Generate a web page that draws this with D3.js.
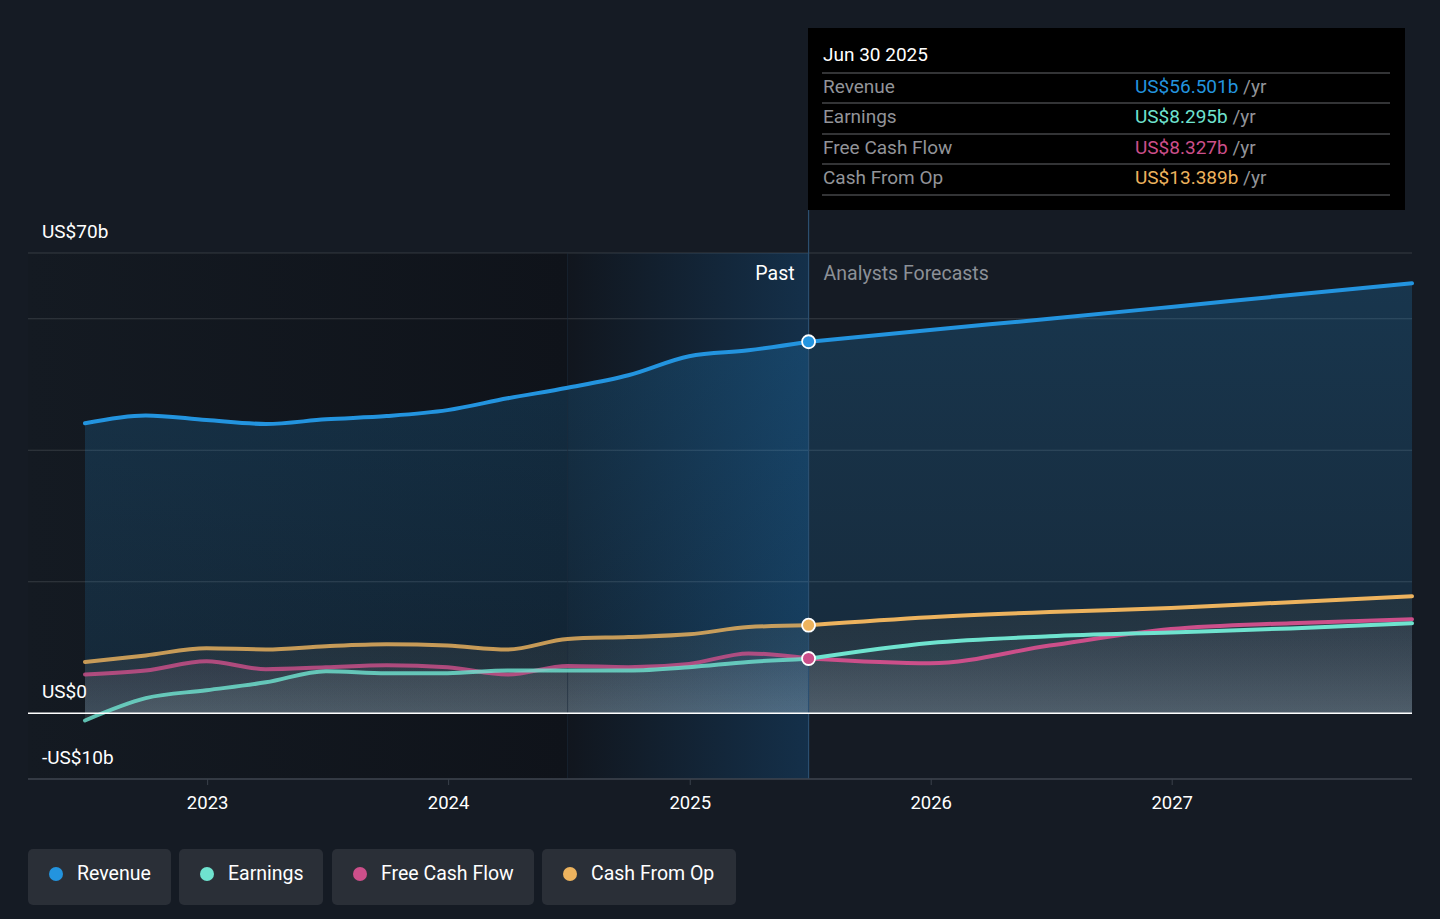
<!DOCTYPE html>
<html>
<head>
<meta charset="utf-8">
<script src="https://cdn.jsdelivr.net/npm/d3@7"></script>
<style>
  body { margin: 0; background: #151b24; }
  svg { display: block; font-family: Roboto, "Noto Sans", sans-serif; }
</style>
</head>
<body>
<svg id="chart" width="1440" height="919"></svg>
<script>
// quarterly history, Jun 2022 .. Jun 2025 (US$ b, trailing year)
var pastDates = ["2022-06-30","2022-09-30","2022-12-31","2023-03-31","2023-06-30","2023-09-30",
  "2023-12-31","2024-03-31","2024-06-30","2024-09-30","2024-12-31","2025-03-31","2025-06-30"];
var revenuePast  = [44.1, 45.3, 44.6, 44.0, 44.7, 45.2, 46.1, 47.9, 49.5, 51.4, 54.3, 55.2, 56.501];
var earningsPast = [-1.1, 2.3, 3.5, 4.7, 6.4, 6.1, 6.1, 6.5, 6.5, 6.5, 7.0, 7.8, 8.295];
var fcfPast      = [5.9, 6.5, 7.9, 6.7, 7.0, 7.3, 7.0, 5.9, 7.2, 7.0, 7.5, 9.1, 8.327];
var cfoPast      = [7.8, 8.8, 9.9, 9.7, 10.2, 10.5, 10.3, 9.7, 11.3, 11.6, 12.0, 13.1, 13.389];

// analyst forecasts
var fcDates = ["2025-06-30","2025-12-31","2026-06-30","2026-12-31","2027-06-30","2027-12-31"];
var revenueFc  = [56.501, 58.3, 60.0, 61.8, 63.6, 65.4];
var earningsFc = [8.295, 10.7, 11.7, 12.3, 12.9, 13.7];
var fcfFc      = [8.327, 7.6, 10.3, 12.8, 13.7, 14.3];
var cfoFc      = [13.389, 14.6, 15.4, 16.0, 16.9, 17.8];

var yTicks = [70, 60, 40, 20, 0, -10];
var yLabels = [{v: 70, t: "US$70b"}, {v: 0, t: "US$0"}, {v: -10, t: "-US$10b"}];
var xTickYears = [2023, 2024, 2025, 2026, 2027];

var seriesNames = ["Revenue", "Earnings", "Free Cash Flow", "Cash From Op"];
var seriesColors = ["#2394df", "#6fe3cf", "#cc4f8a", "#edb35e"];
var tipValues = ["US$56.501b", "US$8.295b", "US$8.327b", "US$13.389b"];

var parse = d3.timeParse("%Y-%m-%d");
var svg = d3.select("#chart");

var x = d3.scaleTime()
  .domain([parse("2022-06-30"), parse("2027-12-31")])
  .range([85, 1412]);
var y = d3.scaleLinear().domain([-10, 70]).range([779, 253]);

var left = 28, right = 1412;
var nowX = x(parse("2025-06-30"));
var hiX = x(parse("2024-06-30"));
var fs = 19;

var defs = svg.append("defs");

// past background (darker) and last-year highlight
var gPast = defs.append("linearGradient").attr("id", "pastBg");
gPast.append("stop").attr("offset", "0").attr("stop-color", "#141a22");
gPast.append("stop").attr("offset", "1").attr("stop-color", "#0f131a");
var gHi = defs.append("linearGradient").attr("id", "hiBg");
gHi.append("stop").attr("offset", "0").attr("stop-color", "#11161e");
gHi.append("stop").attr("offset", "1").attr("stop-color", "#14304a");

svg.append("rect").attr("x", left).attr("y", y(70)).attr("width", hiX - left)
  .attr("height", y(-10) - y(70)).attr("fill", "url(#pastBg)");
svg.append("rect").attr("x", hiX).attr("y", y(70)).attr("width", nowX - hiX)
  .attr("height", y(-10) - y(70)).attr("fill", "url(#hiBg)");

// grid
svg.append("g").selectAll("line").data(yTicks.filter(function(d) { return d !== 0; }))
  .join("line")
  .attr("x1", left).attr("x2", right)
  .attr("y1", function(d) { return y(d); }).attr("y2", function(d) { return y(d); })
  .attr("stroke", d3.rgb(255, 255, 255, 0.14)).attr("stroke-width", 1);

function pts(dates, vals) {
  return dates.map(function(d, i) { return {date: parse(d), v: vals[i]}; });
}

var series = [
  {past: pts(pastDates, revenuePast), fc: pts(fcDates, revenueFc)},
  {past: pts(pastDates, earningsPast), fc: pts(fcDates, earningsFc)},
  {past: pts(pastDates, fcfPast), fc: pts(fcDates, fcfFc)},
  {past: pts(pastDates, cfoPast), fc: pts(fcDates, cfoFc)}
];

var line = d3.line().curve(d3.curveMonotoneX)
  .x(function(d) { return x(d.date); }).y(function(d) { return y(d.v); });
var area = d3.area().curve(d3.curveMonotoneX)
  .x(function(d) { return x(d.date); }).y0(y(0)).y1(function(d) { return y(d.v); });

// area gradients
series.forEach(function(s, i) {
  var g = defs.append("linearGradient").attr("id", "ar" + i)
    .attr("x1", 0).attr("y1", 0).attr("x2", 0).attr("y2", 1);
  if (i === 0) {
    g.append("stop").attr("offset", "0").attr("stop-color", "#2394df").attr("stop-opacity", 0.22);
    g.append("stop").attr("offset", "1").attr("stop-color", "#2394df").attr("stop-opacity", 0.12);
  } else {
    g.append("stop").attr("offset", "0").attr("stop-color", seriesColors[i]).attr("stop-opacity", 0.05);
    g.append("stop").attr("offset", "1").attr("stop-color", "#ffffff").attr("stop-opacity", 0.09);
  }
});

var areas = svg.append("g");
series.forEach(function(s, i) {
  var all = s.past.concat(s.fc.slice(1));
  areas.append("path").datum(all).attr("d", area).attr("fill", "url(#ar" + i + ")");
});

// now line and faint highlight edge
svg.append("line").attr("x1", nowX).attr("x2", nowX).attr("y1", 210).attr("y2", y(-10))
  .attr("stroke", "#2b4f70").attr("stroke-width", 1.2);
svg.append("line").attr("x1", hiX).attr("x2", hiX).attr("y1", y(70)).attr("y2", y(-10))
  .attr("stroke", "#1a2a3a").attr("stroke-width", 1).attr("stroke-opacity", 0.6);

// lines, draw order: cash from op, fcf, earnings, revenue
var lines = svg.append("g");
[3, 2, 1, 0].forEach(function(i) {
  var s = series[i];
  lines.append("path").datum(s.past).attr("d", line).attr("fill", "none")
    .attr("stroke", seriesColors[i]).attr("stroke-width", 4).attr("stroke-opacity", i === 0 ? 1 : 0.82)
    .attr("stroke-linecap", "round");
  lines.append("path").datum(s.fc).attr("d", line).attr("fill", "none")
    .attr("stroke", seriesColors[i]).attr("stroke-width", 4).attr("stroke-linecap", "round");
});

// zero line and bottom axis
svg.append("line").attr("x1", left).attr("x2", right).attr("y1", y(0)).attr("y2", y(0))
  .attr("stroke", "#ffffff").attr("stroke-width", 1.5);

var xAxis = d3.axisBottom(x)
  .tickValues(xTickYears.map(function(yr) { return new Date(yr, 0, 1); }))
  .tickFormat(d3.timeFormat("%Y")).tickSize(6).tickPadding(11);
var ax = svg.append("g").attr("transform", "translate(0," + y(-10) + ")").call(xAxis);
ax.select(".domain").remove();
ax.append("line").attr("x1", left).attr("x2", right).attr("stroke", "#3a414b").attr("stroke-width", 1.5);
ax.selectAll(".tick line").attr("stroke", "#3a414b");
ax.selectAll(".tick text").attr("fill", "#ffffff").attr("font-size", 18.5)
  .attr("font-family", "Roboto, sans-serif");

// y labels
svg.append("g").selectAll("text").data(yLabels).join("text")
  .attr("x", 42).attr("y", function(d) { return y(d.v) - 15; })
  .attr("fill", "#ffffff").attr("font-size", fs).text(function(d) { return d.t; });

// past / forecast labels
svg.append("text").attr("x", nowX - 14).attr("y", 280).attr("text-anchor", "end")
  .attr("fill", "#ffffff").attr("font-size", fs + 0.5).text("Past");
svg.append("text").attr("x", nowX + 15).attr("y", 280)
  .attr("fill", "#8c9097").attr("font-size", fs + 0.5).text("Analysts Forecasts");

// markers at now
[3, 2, 0].forEach(function(i) {
  var p = series[i].past[series[i].past.length - 1];
  svg.append("circle").attr("cx", x(p.date)).attr("cy", y(p.v)).attr("r", 6.5)
    .attr("fill", seriesColors[i]).attr("stroke", "#ffffff").attr("stroke-width", 1.8);
});

// tooltip
var tip = svg.append("g");
tip.append("rect").attr("x", 808).attr("y", 28).attr("width", 597).attr("height", 182).attr("fill", "#000000");
tip.append("text").attr("x", 823).attr("y", 61).attr("fill", "#ffffff").attr("font-size", fs).text("Jun 30 2025");
var rowY = [73, 103, 134, 164, 195];
tip.selectAll("line").data(rowY).join("line")
  .attr("x1", 822).attr("x2", 1390)
  .attr("y1", function(d) { return d; }).attr("y2", function(d) { return d; })
  .attr("stroke", "#444649").attr("stroke-width", 1.5);
seriesNames.forEach(function(n, i) {
  var ty = rowY[i] + 20;
  tip.append("text").attr("x", 823).attr("y", ty).attr("fill", "#929499").attr("font-size", fs).text(n);
  var t = tip.append("text").attr("x", 1135).attr("y", ty).attr("font-size", fs);
  t.append("tspan").attr("fill", seriesColors[i]).text(tipValues[i]);
  t.append("tspan").attr("fill", "#929499").text(" /yr");
});

// legend
var pills = [{x: 28, w: 143}, {x: 179, w: 144}, {x: 332, w: 202}, {x: 542, w: 194}];
var leg = svg.append("g");
seriesNames.forEach(function(n, i) {
  var p = pills[i];
  leg.append("rect").attr("x", p.x).attr("y", 849).attr("width", p.w).attr("height", 56)
    .attr("rx", 5).attr("fill", "#2a2f37");
  leg.append("circle").attr("cx", p.x + 28).attr("cy", 874).attr("r", 7).attr("fill", seriesColors[i]);
  leg.append("text").attr("x", p.x + 49).attr("y", 880).attr("fill", "#ffffff")
    .attr("font-size", fs + 0.5).text(n);
});
</script>
</body>
</html>
